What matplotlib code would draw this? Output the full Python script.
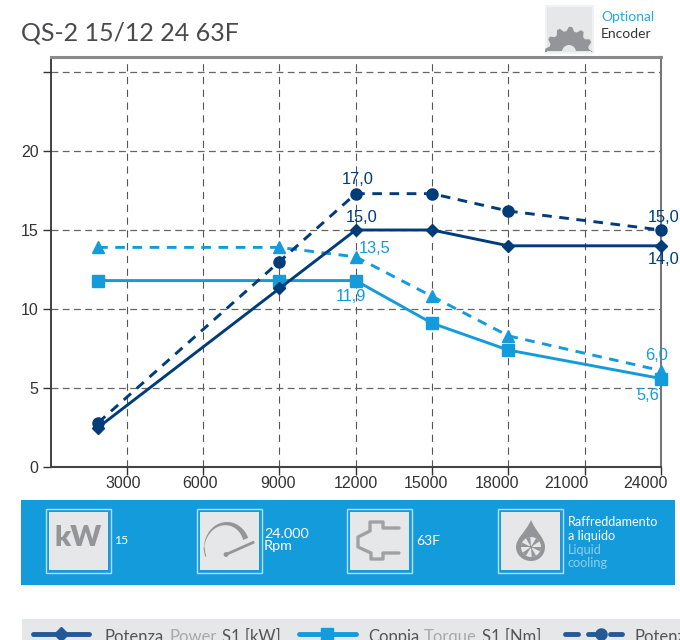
import numpy as np
import matplotlib
matplotlib.use("Agg")
import matplotlib.pyplot as plt
from matplotlib.patches import Rectangle, Polygon, Circle, Wedge, PathPatch
from matplotlib.path import Path

rpm = [1870, 9000, 12000, 15000, 18000, 24000]
power_s1 = [2.5, 11.3, 15.0, 15.0, 14.0, 14.0]
torque_s1 = [11.8, 11.8, 11.8, 9.1, 7.4, 5.6]
power_s6 = [2.8, 13.0, 17.3, 17.3, 16.2, 15.0]
torque_s6 = [13.9, 13.9, 13.3, 10.8, 8.3, 6.1]

x_ticks = [3000, 6000, 9000, 12000, 15000, 18000, 21000, 24000]
x_shift = [-4, -3, -1, 0, -6, -11, -18, -16]  # labels do not sit under their ticks
y_ticks = [0, 5, 10, 15, 20, 25]
y_labels = ["0", "5", "10", "15", "20", ""]

NAVY = "#003c7a"
BLUE = "#149bdc"
GREY = "#939598"
LIGHT = "#e6e7e8"
value_labels = [
    ("17,0", 12000, 17.3, (2, 14), NAVY),
    ("15,0", 12000, 15.0, (6, 13), NAVY),
    ("13,5", 12000, 13.3, (19, 8), BLUE),
    ("11,9", 12000, 11.8, (-5, -16), BLUE),
    ("15,0", 24000, 15.0, (3, 13), NAVY),
    ("14,0", 24000, 14.0, (3, -14), NAVY),
    ("6,0", 24000, 6.1, (-4, 15), BLUE),
    ("5,6", 24000, 5.6, (-13, -17), BLUE),
]

W, H = 680, 640
plt.rcParams["font.family"] = "Lato"
fig = plt.figure(figsize=(W / 100, H / 100), dpi=100)

ax = fig.add_axes([50.5 / W, 1 - 467 / H, (661 - 50.5) / W, (467 - 57) / H])
ax.set_xlim(0, 24000)
ax.set_ylim(0, 25.95)
ax.set_xticks(x_ticks)
ax.set_yticks(y_ticks)
ax.set_xticklabels([])
ax.set_yticklabels(y_labels, family="Liberation Sans", fontsize=11.5, color="#333333")
ax.tick_params(axis="both", length=5.5, width=1, color="#333333", pad=3)
ax.grid(True, axis="y", color="#666666", lw=0.9, ls=(0, (5.5, 3.5)))
ax.grid(True, axis="x", color="#555555", lw=0.8, ls=(0, (6.5, 5)))
ax.set_axisbelow(True)
for side, col, lw in [("left", "#333333", 1.3), ("bottom", "#444444", 1.5),
                      ("top", "#8a8a8c", 2.2), ("right", "#777777", 1.5)]:
    ax.spines[side].set_color(col)
    ax.spines[side].set_linewidth(lw)

for tick, dx in zip(x_ticks, x_shift):
    ax.annotate(str(tick), (tick, 0), xytext=(dx * 0.72, -17 * 0.72), textcoords="offset points",
                ha="center", va="center", family="Liberation Sans", fontsize=11.5,
                color="#333333", annotation_clip=False)

ax.plot(rpm, power_s1, color=NAVY, lw=2.1, marker="D", ms=6, clip_on=False, zorder=4)
ax.plot(rpm, power_s6, color=NAVY, lw=2.1, ls=(0, (3.3, 2.6)), marker="o", ms=8, clip_on=False, zorder=4)
ax.plot(rpm, torque_s6, color=BLUE, lw=2.1, ls=(0, (3.3, 2.6)), marker="^", ms=8.5, clip_on=False, zorder=3)
ax.plot(rpm, torque_s1, color=BLUE, lw=2.1, marker="s", ms=8, clip_on=False, zorder=3)

for txt, x, y, off, col in value_labels:
    ax.annotate(txt, (x, y), xytext=(off[0] * 0.72, off[1] * 0.72), textcoords="offset points",
                ha="center", va="center", family="Liberation Sans", fontsize=11.8, color=col,
                annotation_clip=False, zorder=6)

# everything around the chart is laid out in pixels
top = fig.add_axes([0, 0, 1, 1], zorder=5)
top.set_xlim(0, W)
top.set_ylim(H, 0)
top.axis("off")
top.patch.set_alpha(0)

top.text(21, 33, "QS-2 15/12 24 63F", fontsize=18, color="#4a4a4c", va="center")
top.text(601, 17, "Optional", fontsize=10, color="#2aa5e0", va="center")
top.text(601, 34.5, "Encoder", fontsize=10, color="#333333", va="center")

# encoder icon
top.add_patch(Rectangle((545.5, 5.5), 47, 47, fc=LIGHT, ec="#f1f2f2", lw=1.5))
teeth = np.linspace(np.pi, 2 * np.pi, 25)
rad = np.where(np.arange(25) % 4 < 2, 24, 20)
gear = np.column_stack([569 + rad * np.cos(teeth), 52 + rad * 1.05 * np.sin(teeth)])
top.add_patch(Polygon(gear, fc=GREY, ec="none"))
top.add_patch(Wedge((569, 52), 7, 180, 360, fc=LIGHT, ec="none"))
top.add_patch(Rectangle((547, 50.5), 44, 1.5, fc=LIGHT, ec="none"))

# blue band with the four spec boxes
top.add_patch(Rectangle((21, 500), 654, 85, fc=BLUE, ec="none"))
for bx in [45.5, 196.5, 346.5, 497.5]:
    top.add_patch(Rectangle((bx, 508.5), 65, 64.5, fc=BLUE, ec="#b9dcf0", lw=1))
    top.add_patch(Rectangle((bx + 3, 511.5), 59, 58.5, fc=LIGHT, ec="none"))

top.text(78, 538, "kW", fontsize=21, color=GREY, ha="center", va="center", weight="heavy")
top.text(114, 541, "15", fontsize=8.8, color="white", va="center")

# gauge: arc gets thicker towards the right end
t = np.radians(np.linspace(180, 337, 60))
thick = np.linspace(0.3, 5.5, 60)
outer = np.column_stack([227 + 23 * np.cos(t), 548 + 26 * np.sin(t)])
inner = np.column_stack([227 + (23 - thick) * np.cos(t), 548 + (26 - thick) * np.sin(t)])
top.add_patch(Polygon(np.vstack([outer, inner[::-1]]), fc=GREY, ec="none"))
top.plot([204, 205.5], [548, 556], color=GREY, lw=0.8)
top.plot([226, 253], [554.5, 542.5], color=GREY, lw=2)
top.add_patch(Circle((226, 554.5), 2.4, fc=GREY, ec="none"))
top.text(264, 533.5, "24.000", fontsize=10.4, color="white", va="center")
top.text(264, 546.5, "Rpm", fontsize=10.4, color="white", va="center")

conn = [(399, 528), (383, 528), (383, 522), (370, 522), (370, 531), (358, 537), (358, 547),
        (371, 553), (371, 559), (383, 559), (383, 553), (399, 553)]
top.plot(*zip(*conn), color="#a0a1a4", lw=2.4, solid_capstyle="round", solid_joinstyle="round")
top.text(416, 541, "63F", fontsize=10, color="white", va="center")

drop = Path([(531, 520), (526, 532), (516, 538), (516, 547), (516, 555), (523, 561), (531, 561),
             (539, 561), (545, 555), (545, 547), (545, 538), (536, 532), (531, 520)],
            [Path.MOVETO] + [Path.CURVE4] * 12)
top.add_patch(PathPatch(drop, fc=GREY, ec="none"))
top.add_patch(Circle((531, 547), 10, fc=LIGHT, ec="none"))
for a in range(0, 360, 60):
    top.add_patch(Wedge((531, 547), 10, a, a + 26, fc=GREY, ec="none"))
top.add_patch(Circle((531, 547), 1.6, fc=GREY, ec="none"))
top.text(568, 522.5, "Raffreddamento", fontsize=9.1, color="white", va="center")
top.text(568, 536, "a liquido", fontsize=9.1, color="white", va="center")
top.text(568, 549.5, "Liquid", fontsize=9.1, color="#8fcdee", va="center")
top.text(568, 563, "cooling", fontsize=9.1, color="#8fcdee", va="center")

# legend strip, cut by the lower edge as in the source
top.add_patch(Rectangle((22, 619), 658, 21, fc=LIGHT, ec="none"))
LEG = "#235a96"
top.plot([33, 89], [634, 634], color=LEG, lw=3.5, solid_capstyle="round")
top.plot([61], [634], color=LEG, marker="D", ms=7)
top.plot([299, 356], [634, 634], color=BLUE, lw=3.5, solid_capstyle="round")
top.plot([327], [634], color=BLUE, marker="s", ms=8)
for a, b in [(565, 578), (588, 600), (610, 622)]:
    top.plot([a, b], [634, 634], color=LEG, lw=3.5, solid_capstyle="round")
top.plot([601], [634], color=LEG, marker="o", ms=8)

legend_y = 637


def legend_text(x, parts):
    for txt, col in parts:
        t = top.text(x, legend_y, txt, fontsize=12, color=col, va="center", clip_on=False)
        x += t.get_window_extent(fig.canvas.get_renderer()).width + 5


legend_text(105, [("Potenza", "#555555"), ("Power", "#a7a9ac"), ("S1 [kW]", "#555555")])
legend_text(368, [("Coppia", "#555555"), ("Torque", "#a7a9ac"), ("S1 [Nm]", "#555555")])
legend_text(635, [("Potenza", "#555555")])

fig.savefig("out.png", dpi=100)
